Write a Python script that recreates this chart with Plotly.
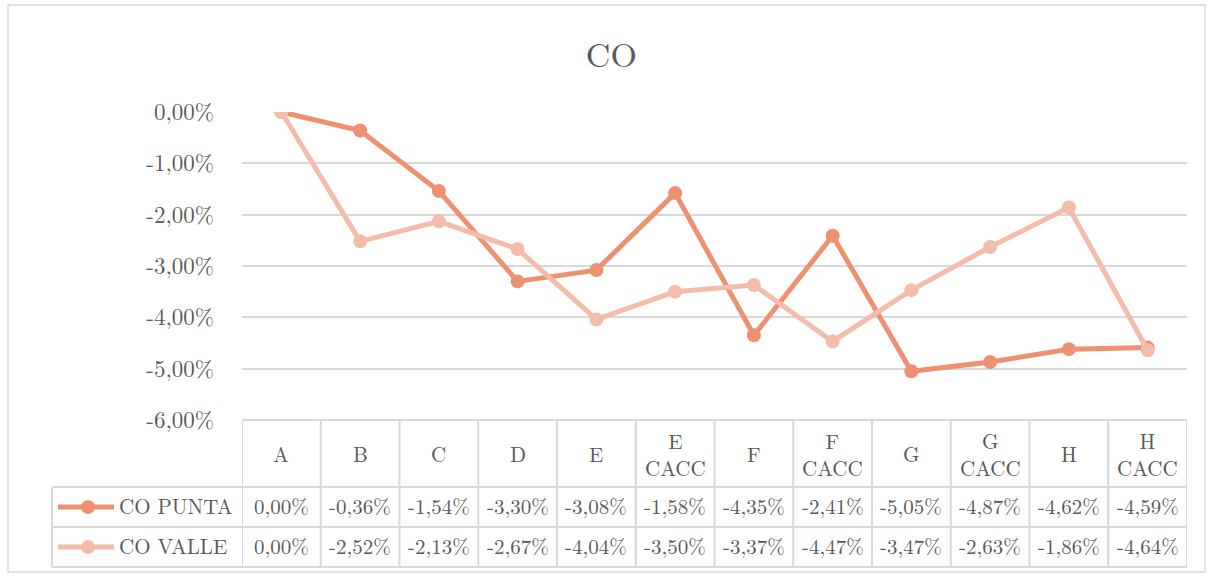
import plotly.graph_objects as go

categories = ["A", "B", "C", "D", "E", "E<br>CACC", "F", "F<br>CACC", "G", "G<br>CACC", "H", "H<br>CACC"]
co_punta = [0.00, -0.36, -1.54, -3.30, -3.08, -1.58, -4.35, -2.41, -5.05, -4.87, -4.62, -4.59]
co_valle = [0.00, -2.52, -2.13, -2.67, -4.04, -3.50, -3.37, -4.47, -3.47, -2.63, -1.86, -4.64]
y_ticks = [0, -1, -2, -3, -4, -5, -6]
y_tick_labels = ["0,00%", "-1,00%", "-2,00%", "-3,00%", "-4,00%", "-5,00%", "-6,00%"]

series = [
    ("CO PUNTA", co_punta, "#EE9170"),
    ("CO VALLE", co_valle, "#F4BCAB"),
]

W, H = 1213, 577
L, R, T, B = 242, 1187, 112, 420
FONT = "Latin Modern Roman"
GRID = "#D9D9D9"
TXT = "#595959"

def py(pix):
    # pixel row -> paper y
    return (B - pix) / (B - T)

def px(pix):
    # pixel column -> paper x
    return (pix - L) / (R - L)

fig = go.Figure()
xs = list(range(len(categories)))
for name, vals, col in series:
    fig.add_trace(go.Scatter(
        x=xs, y=vals, name=name, mode="lines+markers",
        line=dict(color=col, width=5),
        marker=dict(color=col, size=14),
        showlegend=False,
    ))

shapes = []
# outer chart border
shapes.append(dict(type="rect", xref="paper", yref="paper",
                   x0=px(8), x1=px(1205), y0=py(572), y1=py(5),
                   line=dict(color=GRID, width=1.3)))

n = len(categories)
row_lines = [420, 487, 527, 567]
# horizontal table lines
shapes.append(dict(type="line", xref="x", yref="paper", x0=-0.5, x1=n - 0.5,
                   y0=py(420), y1=py(420), line=dict(color=GRID, width=2)))
for r in row_lines[1:]:
    shapes.append(dict(type="line", xref="paper", yref="paper", x0=px(52), x1=1,
                       y0=py(r), y1=py(r), line=dict(color=GRID, width=2)))
# vertical table lines
for i in range(n + 1):
    shapes.append(dict(type="line", xref="x", yref="paper", x0=i - 0.5, x1=i - 0.5,
                       y0=py(420), y1=py(567), line=dict(color=GRID, width=2)))
shapes.append(dict(type="line", xref="paper", yref="paper", x0=px(52), x1=px(52),
                   y0=py(487), y1=py(567), line=dict(color=GRID, width=2)))

annotations = []
# header row
for i, c in enumerate(categories):
    annotations.append(dict(x=i, y=py(453), xref="x", yref="paper", text=c,
                            showarrow=False, font=dict(family=FONT, size=21, color=TXT),
                            xanchor="center", yanchor="middle"))

row_centers = [507, 547]
for (name, vals, col), rc in zip(series, row_centers):
    # legend key
    shapes.append(dict(type="line", xref="paper", yref="paper", x0=px(58), x1=px(114),
                       y0=py(rc), y1=py(rc), line=dict(color=col, width=5)))
    shapes.append(dict(type="circle", xref="paper", yref="paper",
                       x0=px(81), x1=px(95), y0=py(rc + 7), y1=py(rc - 7),
                       fillcolor=col, line=dict(color=col, width=0)))
    annotations.append(dict(x=px(117), y=py(rc - 2), xref="paper", yref="paper", text=name,
                            showarrow=False, font=dict(family=FONT, size=21, color=TXT),
                            xanchor="left", yanchor="middle"))
    for i, v in enumerate(vals):
        label = f"{v:.2f}%".replace(".", ",")
        annotations.append(dict(x=i, y=py(rc - 2), xref="x", yref="paper", text=label,
                                showarrow=False, font=dict(family=FONT, size=21, color=TXT),
                                xanchor="center", yanchor="middle"))

fig.update_layout(
    width=W, height=H,
    margin=dict(l=L, r=W - R, t=T, b=H - B),
    paper_bgcolor="white", plot_bgcolor="white",
    font=dict(family=FONT),
    title=dict(text="CO", x=0.504, xanchor="center", y=1 - 55 / H, yanchor="middle",
               font=dict(family=FONT, size=34, color=TXT)),
    xaxis=dict(range=[-0.5, n - 0.5], showticklabels=False, showgrid=False,
               zeroline=False, showline=False, fixedrange=True),
    yaxis=dict(range=[-6, 0], tickvals=y_ticks, ticktext=y_tick_labels,
               showgrid=True, gridcolor=GRID, gridwidth=2, zeroline=False,
               showline=False, ticks="", ticklabelstandoff=27,
               tickfont=dict(family=FONT, size=23, color=TXT)),
    shapes=shapes, annotations=annotations,
)

fig.write_html("out.html")
